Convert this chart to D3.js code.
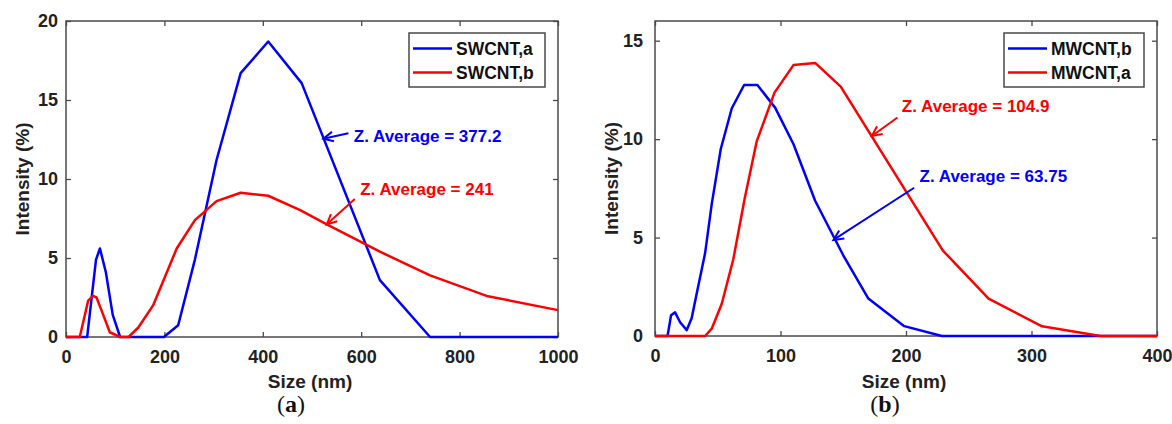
<!DOCTYPE html>
<html>
<head>
<meta charset="utf-8">
<script src="https://cdn.jsdelivr.net/npm/d3@7/dist/d3.min.js"></script>
<style>
  body { margin: 0; background: #fff; }
  svg { display: block; font-family: "Liberation Sans", Arial, sans-serif; }
</style>
</head>
<body>
<svg id="chart" width="1172" height="424"></svg>
<script>
// ---- data ----
// (a) SWCNT
const swcntA_size = [0, 43, 61, 69, 81, 95, 110, 199, 228, 262, 306, 355, 411, 479, 638, 740, 1000];
const swcntA_int  = [0, 0, 4.9, 5.6, 4.1, 1.4, 0, 0, 0.74, 4.9, 11.2, 16.7, 18.7, 16.07, 3.6, 0, 0];
const swcntB_size = [0, 28, 45, 55, 62, 72, 89, 110, 127, 147, 177, 225, 262, 306, 355, 411, 476, 530, 638, 740, 855, 1000];
const swcntB_int  = [0, 0, 2.3, 2.6, 2.5, 1.7, 0.3, 0, 0, 0.6, 2.0, 5.6, 7.4, 8.6, 9.13, 8.94, 8.03, 7.13, 5.4, 3.9, 2.6, 1.7];

// (b) MWCNT
const mwcntB_size = [0, 10, 12.8, 16, 20, 25.3, 29.2, 33.2, 39.9, 45.2, 52.4, 61.2, 71, 81.6, 95.7, 110.3, 127.6, 143.5, 150, 170, 198.6, 228.6, 400];
const mwcntB_int  = [0, 0, 1.05, 1.2, 0.7, 0.3, 0.9, 2.15, 4.2, 6.7, 9.5, 11.57, 12.75, 12.75, 11.6, 9.75, 6.87, 4.9, 4.1, 1.9, 0.5, 0, 0];
const mwcntA_size = [0, 39.9, 45.2, 53.2, 62.4, 71.5, 81.1, 95.2, 110.3, 127.6, 148, 229.4, 265.8, 308.4, 355, 400];
const mwcntA_int  = [0, 0, 0.37, 1.64, 3.9, 7.0, 9.9, 12.36, 13.76, 13.87, 12.67, 4.34, 1.9, 0.49, 0, 0];

const xTicksA = [0, 200, 400, 600, 800, 1000];
const yTicksA = [0, 5, 10, 15, 20];
const xTicksB = [0, 100, 200, 300, 400];
const yTicksB = [0, 5, 10, 15];

const zip = (xs, ys) => xs.map((x, i) => ({ x, y: ys[i] }));

const panels = [
  {
    left: 66, right: 558, top: 21, bottom: 337,
    xDomain: [0, 1000], yDomain: [0, 20], xTicks: xTicksA, yTicks: yTicksA, yPad: 8,
    series: [
      { name: "SWCNT,a", color: "#0000ff", data: zip(swcntA_size, swcntA_int) },
      { name: "SWCNT,b", color: "#ff0000", data: zip(swcntB_size, swcntB_int) }
    ],
    legend: { x: 409, y: 33, w: 136, h: 54 },
    notes: [
      { text: "Z. Average = 377.2", color: "#0000ff", tx: 585, ty: 12.7, from: [574, 12.9], to: [523, 12.55] },
      { text: "Z. Average = 241", color: "#ff0000", tx: 598, ty: 9.37, from: [587, 8.73], to: [530, 7.13] }
    ],
    tag: "a", yLabelX: 22
  },
  {
    left: 655, right: 1157, top: 21, bottom: 336,
    xDomain: [0, 400], yDomain: [0, 16], xTicks: xTicksB, yTicks: yTicksB, yPad: 12,
    series: [
      { name: "MWCNT,b", color: "#0000ff", data: zip(mwcntB_size, mwcntB_int) },
      { name: "MWCNT,a", color: "#ff0000", data: zip(mwcntA_size, mwcntA_int) }
    ],
    legend: { x: 1004, y: 33, w: 140, h: 54 },
    notes: [
      { text: "Z. Average = 104.9", color: "#ff0000", tx: 196.7, ty: 11.68, from: [193.2, 11.1], to: [172.8, 10.16] },
      { text: "Z. Average = 63.75", color: "#0000ff", tx: 210.8, ty: 8.13, from: [206.5, 7.53], to: [142.2, 4.88] }
    ],
    tag: "b", yLabelX: 611
  }
];

const svg = d3.select("#chart");
const axisColor = "#4a4a4a";
const fmt = d3.format("d");

panels.forEach(p => {
  const x = d3.scaleLinear().domain(p.xDomain).range([p.left, p.right]);
  const y = d3.scaleLinear().domain(p.yDomain).range([p.bottom, p.top]);
  const g = svg.append("g");

  // frame
  g.append("rect")
    .attr("x", p.left).attr("y", p.top)
    .attr("width", p.right - p.left).attr("height", p.bottom - p.top)
    .attr("fill", "#fff").attr("stroke", axisColor).attr("stroke-width", 1.5);

  const styleAxis = (sel, labels) => {
    sel.select(".domain").remove();
    sel.selectAll(".tick line").attr("stroke", axisColor).attr("stroke-width", 1.3);
    sel.selectAll(".tick text")
      .attr("fill", labels ? "#222" : "none")
      .style("font-size", "18px").style("font-weight", "bold")
      .style("font-family", "'Liberation Sans', Arial, sans-serif");
  };

  g.append("g").attr("transform", `translate(0,${p.bottom})`)
    .call(d3.axisBottom(x).tickValues(p.xTicks).tickFormat(fmt).tickSizeInner(-5).tickSizeOuter(0).tickPadding(13))
    .call(s => styleAxis(s, true));
  g.append("g").attr("transform", `translate(0,${p.top})`)
    .call(d3.axisTop(x).tickValues(p.xTicks).tickSizeInner(-5).tickSizeOuter(0).tickFormat(""))
    .call(s => styleAxis(s, false));
  g.append("g").attr("transform", `translate(${p.left},0)`)
    .call(d3.axisLeft(y).tickValues(p.yTicks).tickFormat(fmt).tickSizeInner(-5).tickSizeOuter(0).tickPadding(p.yPad))
    .call(s => styleAxis(s, true));
  g.append("g").attr("transform", `translate(${p.right},0)`)
    .call(d3.axisRight(y).tickValues(p.yTicks).tickSizeInner(-5).tickSizeOuter(0).tickFormat(""))
    .call(s => styleAxis(s, false));

  // lines
  const line = d3.line().x(d => x(d.x)).y(d => y(d.y));
  p.series.forEach(s => {
    g.append("path").datum(s.data)
      .attr("d", line)
      .attr("fill", "none")
      .attr("stroke", s.color)
      .attr("stroke-width", 2.5)
      .attr("stroke-linejoin", "round");
  });

  // annotations
  p.notes.forEach(n => {
    const x1 = x(n.from[0]), y1 = y(n.from[1]);
    const x2 = x(n.to[0]), y2 = y(n.to[1]);
    const ang = Math.atan2(y2 - y1, x2 - x1);
    const L = 11, spread = 0.45;
    g.append("line")
      .attr("x1", x1).attr("y1", y1).attr("x2", x2).attr("y2", y2)
      .attr("stroke", n.color).attr("stroke-width", 2);
    g.append("path")
      .attr("d", `M${x2 - L * Math.cos(ang - spread)},${y2 - L * Math.sin(ang - spread)}
                  L${x2},${y2}
                  L${x2 - L * Math.cos(ang + spread)},${y2 - L * Math.sin(ang + spread)}`)
      .attr("fill", "none").attr("stroke", n.color).attr("stroke-width", 2)
      .attr("stroke-linejoin", "miter");
    g.append("text")
      .attr("x", x(n.tx)).attr("y", y(n.ty)).attr("dy", "0.35em")
      .attr("fill", n.color)
      .style("font-size", "17px").style("font-weight", "bold")
      .text(n.text);
  });

  // legend
  const lg = g.append("g").attr("transform", `translate(${p.legend.x},${p.legend.y})`);
  lg.append("rect")
    .attr("width", p.legend.w).attr("height", p.legend.h)
    .attr("fill", "#fff").attr("stroke", axisColor).attr("stroke-width", 1.5);
  p.series.forEach((s, i) => {
    const cy = 15.5 + i * 24;
    lg.append("line")
      .attr("x1", 4).attr("x2", 43).attr("y1", cy).attr("y2", cy)
      .attr("stroke", s.color).attr("stroke-width", 2.5);
    lg.append("text")
      .attr("x", 47).attr("y", cy).attr("dy", "0.36em")
      .attr("fill", "#111")
      .style("font-size", "17.5px").style("font-weight", "bold")
      .text(s.name);
  });

  // axis labels
  const cx = (p.left + p.right) / 2;
  g.append("text")
    .attr("x", cx - 2).attr("y", 388)
    .attr("text-anchor", "middle").attr("fill", "#222")
    .style("font-size", "19px").style("font-weight", "bold")
    .text("Size (nm)");
  g.append("text")
    .attr("transform", `translate(${p.yLabelX},${(p.top + p.bottom) / 2}) rotate(-90)`)
    .attr("text-anchor", "middle").attr("dy", "0.35em").attr("fill", "#222")
    .style("font-size", "19px").style("font-weight", "bold")
    .text("Intensity (%)");

  // panel tag
  const tag = g.append("text")
    .attr("x", cx - 21).attr("y", 412)
    .attr("text-anchor", "middle").attr("fill", "#111")
    .style("font-family", "'Liberation Serif', 'DejaVu Serif', serif")
    .style("font-size", "24px");
  tag.append("tspan").text("(");
  tag.append("tspan").style("font-weight", "bold").text(p.tag);
  tag.append("tspan").text(")");
});
</script>
</body>
</html>
